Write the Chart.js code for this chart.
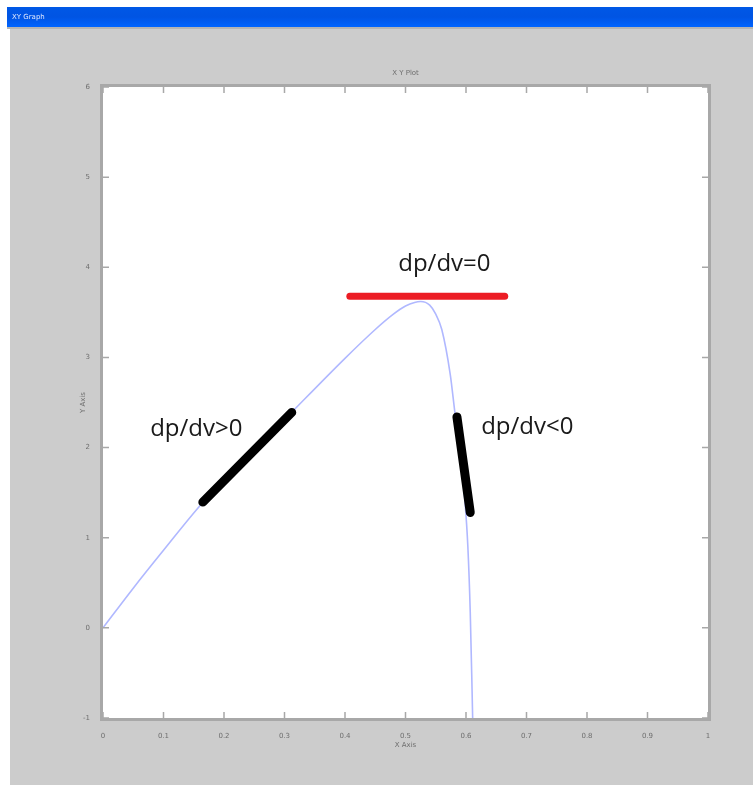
<!DOCTYPE html>
<html>
<head>
<meta charset="utf-8">
<script src="https://cdn.jsdelivr.net/npm/chart.js@4.4.1/dist/chart.umd.min.js"></script>
<style>
    html, body { margin: 0; padding: 0; background: #ffffff; }
    #wrap { width: 753px; height: 794px; }
</style>
</head>
<body>
<div id="wrap"><canvas id="chart" width="753" height="794"></canvas></div>
<script>
// P-V curve
const curveX = [0, 0.05, 0.1, 0.165, 0.2, 0.3, 0.4, 0.45, 0.48, 0.5, 0.515, 0.525, 0.54, 0.55, 0.56, 0.574, 0.582, 0.59, 0.598, 0.603, 0.607, 0.61, 0.611];
const curveY = [0, 0.44, 0.86, 1.39, 1.63, 2.31, 2.99, 3.31, 3.48, 3.57, 3.61, 3.62, 3.58, 3.48, 3.31, 2.81, 2.37, 1.98, 1.43, 0.91, 0.18, -0.68, -1];

// hand drawn slope markers
const zeroSlopeX = [0.408, 0.664];
const zeroSlopeY = [3.68, 3.68];
const posSlopeX = [0.165, 0.312];
const posSlopeY = [1.395, 2.39];
const negSlopeX = [0.585, 0.607];
const negSlopeY = [2.34, 1.28];

const noteText = ['dp/dv=0', 'dp/dv>0', 'dp/dv<0'];
const noteX = [0.488, 0.078, 0.625];
const noteY = [4.03, 2.2, 2.23];

const xTicks = [0, 0.1, 0.2, 0.3, 0.4, 0.5, 0.6, 0.7, 0.8, 0.9, 1];
const yTicks = [-1, 0, 1, 2, 3, 4, 5, 6];

function toPoints(xs, ys) {
    let pts = [];
    for (let i = 0; i < xs.length; i++) {
        pts.push({ x: xs[i], y: ys[i] });
    }
    return pts;
}

const data = {
    datasets: [
        {
            label: 'curve',
            data: toPoints(curveX, curveY),
            showLine: true,
            borderColor: 'rgb(176, 184, 255)',
            borderWidth: 1.6,
            pointRadius: 0,
            cubicInterpolationMode: 'monotone',
            order: 5
        },
        {
            label: 'dp/dv=0',
            data: toPoints(zeroSlopeX, zeroSlopeY),
            showLine: true,
            borderColor: 'rgb(236, 28, 36)',
            borderWidth: 7,
            borderCapStyle: 'round',
            pointRadius: 0,
            order: 1
        },
        {
            label: 'dp/dv>0',
            data: toPoints(posSlopeX, posSlopeY),
            showLine: true,
            borderColor: 'rgb(0, 0, 0)',
            borderWidth: 9,
            borderCapStyle: 'round',
            pointRadius: 0,
            order: 1
        },
        {
            label: 'dp/dv<0',
            data: toPoints(negSlopeX, negSlopeY),
            showLine: true,
            borderColor: 'rgb(0, 0, 0)',
            borderWidth: 9,
            borderCapStyle: 'round',
            pointRadius: 0,
            order: 1
        }
    ]
};

// window frame, plot box, inward ticks and labels
const plugin = {
    id: 'matlab_window',
    beforeDraw: (chart) => {
        const ctx = chart.ctx;
        const a = chart.chartArea;
        ctx.save();
        ctx.fillStyle = '#ffffff';
        ctx.fillRect(0, 0, chart.width, chart.height);
        ctx.fillStyle = 'rgb(204, 204, 204)';
        ctx.fillRect(10, 27, chart.width - 10, 758);
        let grad = ctx.createLinearGradient(0, 7, 0, 27);
        grad.addColorStop(0, 'rgb(0, 88, 230)');
        grad.addColorStop(0.5, 'rgb(0, 84, 227)');
        grad.addColorStop(1, 'rgb(0, 100, 255)');
        ctx.fillStyle = grad;
        ctx.fillRect(7, 7, chart.width - 7, 20);
        ctx.fillStyle = '#dfe8ff';
        ctx.font = '7px "DejaVu Sans"';
        ctx.textBaseline = 'middle';
        ctx.fillText('XY Graph', 12, 17);
        ctx.fillStyle = 'rgb(180, 180, 180)';
        ctx.fillRect(7, 27, chart.width - 7, 2);
        ctx.fillStyle = '#ffffff';
        ctx.fillRect(a.left, a.top, a.right - a.left, a.bottom - a.top);
        ctx.restore();
    },
    afterDraw: (chart) => {
        const ctx = chart.ctx;
        const a = chart.chartArea;
        const xs = chart.scales.x;
        const ys = chart.scales.y;
        ctx.save();
        ctx.strokeStyle = 'rgb(168, 168, 168)';
        ctx.lineWidth = 3;
        ctx.strokeRect(a.left - 1.5, a.top - 1.5, a.right - a.left + 3, a.bottom - a.top + 3);
        ctx.lineWidth = 1.5;
        ctx.beginPath();
        xTicks.forEach(function (v) {
            let px = xs.getPixelForValue(v);
            ctx.moveTo(px, a.bottom);
            ctx.lineTo(px, a.bottom - 6);
            ctx.moveTo(px, a.top);
            ctx.lineTo(px, a.top + 6);
        });
        yTicks.forEach(function (v) {
            let py = ys.getPixelForValue(v);
            ctx.moveTo(a.left, py);
            ctx.lineTo(a.left + 6, py);
            ctx.moveTo(a.right, py);
            ctx.lineTo(a.right - 6, py);
        });
        ctx.stroke();

        ctx.fillStyle = 'rgb(110, 110, 110)';
        ctx.font = '7px "DejaVu Sans"';
        ctx.textAlign = 'center';
        ctx.textBaseline = 'middle';
        ctx.fillText('X Y Plot', (a.left + a.right) / 2, 73);
        ctx.fillText('X Axis', (a.left + a.right) / 2, 745);
        ctx.translate(83, (a.top + a.bottom) / 2);
        ctx.rotate(-Math.PI / 2);
        ctx.fillText('Y Axis', 0, 0);
        ctx.restore();

        ctx.save();
        ctx.fillStyle = 'rgb(26, 26, 26)';
        ctx.font = '24px "Open Sans"';
        ctx.textAlign = 'left';
        ctx.textBaseline = 'middle';
        for (let i = 0; i < noteText.length; i++) {
            ctx.fillText(noteText[i], xs.getPixelForValue(noteX[i]), ys.getPixelForValue(noteY[i]));
        }
        ctx.restore();
    }
};

const tickFont = { family: 'DejaVu Sans', size: 7 };

const config = {
    type: 'scatter',
    data: data,
    options: {
        responsive: false,
        animation: false,
        events: [],
        plugins: {
            legend: { display: false },
            tooltip: { enabled: false }
        },
        scales: {
            x: {
                type: 'linear',
                min: 0,
                max: 1,
                afterBuildTicks: function (scale) {
                    scale.ticks = xTicks.map(function (v) { return { value: v }; });
                },
                afterFit: function (scale) { scale.height = 76; },
                grid: { display: false },
                border: { display: false },
                ticks: {
                    color: 'rgb(110, 110, 110)',
                    font: tickFont,
                    padding: 6,
                    maxRotation: 0,
                    callback: function (v) { return v; }
                }
            },
            y: {
                type: 'linear',
                min: -1,
                max: 6,
                afterBuildTicks: function (scale) {
                    scale.ticks = yTicks.map(function (v) { return { value: v }; });
                },
                afterFit: function (scale) { scale.width = 30; },
                grid: { display: false },
                border: { display: false },
                ticks: {
                    color: 'rgb(110, 110, 110)',
                    font: tickFont,
                    padding: 5
                }
            }
        },
        layout: {
            padding: { left: 73, right: 45, top: 87, bottom: 0 }
        }
    },
    plugins: [plugin]
};

let chart = new Chart(
    document.getElementById('chart'),
    config
);
</script>
</body>
</html>
